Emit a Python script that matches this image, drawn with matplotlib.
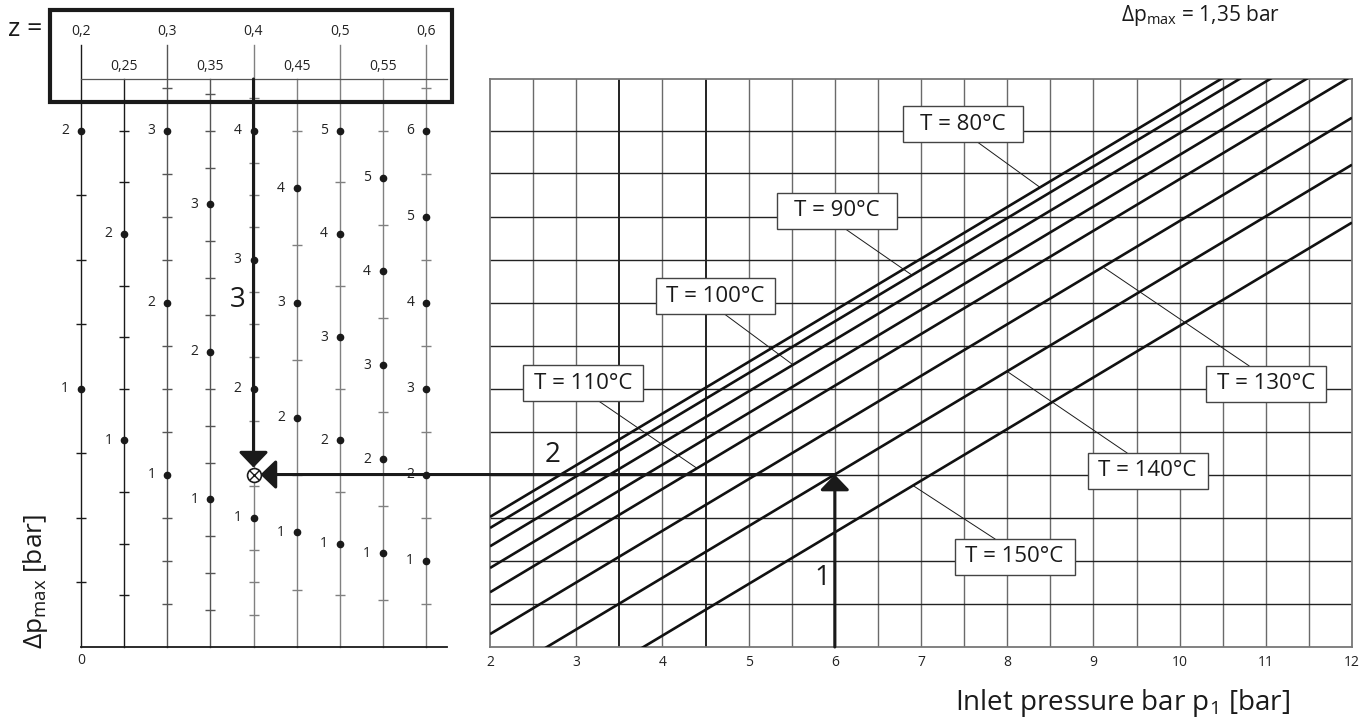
import matplotlib
matplotlib.use("Agg")
import matplotlib.pyplot as plt
from matplotlib.patches import Rectangle
import numpy as np

plt.rcParams['font.family'] = ['Open Sans', 'DejaVu Sans']
plt.rcParams['mathtext.fontset'] = 'custom'
plt.rcParams['mathtext.rm'] = 'Open Sans'

# left nomogram: pressure ratio z lines, dots = delta p_max in bar
z_values = [0.2, 0.25, 0.3, 0.35, 0.4, 0.45, 0.5, 0.55, 0.6]
z_labels = ["0,2", "0,25", "0,3", "0,35", "0,4", "0,45", "0,5", "0,55", "0,6"]
z_tick_step = [0.25, 0.25, 0.25, 0.25, 0.25, 0.5, 0.5, 0.5, 0.5]
dot_limit = 10.0     # highest dot, in (p1 - ps) units
tick_limit = 10.9

# right chart: inlet pressure vs (p1 - ps) for each temperature line
p1_ticks = [2, 3, 4, 5, 6, 7, 8, 9, 10, 11, 12]
line_offsets = [-0.52, -0.305, 0.05, 0.47, 0.94, 1.75, 2.66, 3.78]
h_grid = [0.83, 1.67, 2.5, 3.33, 4.17, 5.0, 5.83, 6.67, 7.5, 8.33, 9.17, 10.0]

t_labels = ["T = 80°C", "T = 90°C", "T = 100°C", "T = 110°C",
            "T = 130°C", "T = 140°C", "T = 150°C"]
t_box_p1 = [7.487, 6.026, 4.616, 3.079, 11.008, 9.628, 8.085]
t_box_y = [10.12, 8.45, 6.79, 5.107, 5.097, 3.41, 1.744]
t_lead_start = [7.661, 6.118, 4.726, 3.265, 10.805, 9.390, 7.858]
t_lead_side = [-1, -1, -1, -1, 1, 1, 1]
t_lead_line = [0, 1, 2, 4, 5, 6, 7]
t_lead_end = [8.381, 6.896, 5.515, 4.401, 9.111, 7.998, 6.907]

# worked example
p1_work = 6.0
z_work = 0.4
work_line = 6
y_work = p1_work - line_offsets[work_line]

W, H = 1372, 720
fig = plt.figure(figsize=(13.72, 7.2), dpi=100)


def add_px_axes(x0, x1, y0, y1):
    return fig.add_axes([x0 / W, 1 - y1 / H, (x1 - x0) / W, (y1 - y0) / H])


ax_l = add_px_axes(81, 426, 79, 647)
ax_l.set_xlim(0.2, 0.6)
ax_l.set_ylim(0, 11)
ax_l.axis('off')

ax_r = add_px_axes(490, 1352, 79, 647)
ax_r.set_xlim(2, 12)
ax_r.set_ylim(0, 11)
ax_r.set_facecolor('none')

small = 10
ink = '#1a1a1a'

# ---- left part
for i, (z, lab, step) in enumerate(zip(z_values, z_labels, z_tick_step)):
    main = i % 2 == 0
    top = 11.66 if main else 11.0
    col = ink if i < 2 else ('#555555' if i < 4 else '#808080')
    ax_l.plot([z, z], [0, top], color=col, lw=1.0, clip_on=False, zorder=2)
    ax_l.text(z, 11.92 if main else 11.24, lab, ha='center', va='center',
              fontsize=small, color='#222222')

    vals = np.arange(step, tick_limit * z + 1e-9, step)
    ticks = [v / z for v in vals if abs(v - round(v)) > 1e-6]
    dots = [v for v in vals if abs(v - round(v)) < 1e-6 and v / z <= dot_limit + 1e-6]
    ax_l.plot([z] * len(ticks), ticks, '_', ms=6.5, mew=1.0, color=col,
              clip_on=False, zorder=2)
    ax_l.plot([z] * len(dots), [v / z for v in dots], 'o', ms=4.5,
              color=ink, zorder=4, clip_on=False)
    for v in dots:
        ax_l.annotate(f"{int(round(v))}", (z, v / z), xytext=(-8.5, 0),
                      textcoords='offset points', ha='right', va='center',
                      fontsize=small, color='#222222')

ax_l.plot([0.2, 0.6243], [0, 0], color=ink, lw=1.3, clip_on=False)
ax_l.plot([0.2, 0.6243], [11, 11], color='#555555', lw=0.9, clip_on=False)
ax_l.add_patch(Rectangle((0.164, 10.56), 0.466, 1.78, fill=False, lw=3,
                         ec=ink, clip_on=False, zorder=6))
ax_l.text(0.135, 11.96, "z =", ha='center', va='center', fontsize=19, color=ink)
ax_l.text(0.2, -0.27, "0", ha='center', va='center', fontsize=small, color='#222222')
ax_l.text(0.1478, 1.26, r"Δp$_{\mathrm{max}}$ [bar]", rotation=90, ha='center',
          va='center', fontsize=19, color=ink)
ax_l.text(0.382, 6.72, "3", ha='center', va='center', fontsize=20, color=ink)

# arrow 3 down the z line
ax_l.annotate('', xy=(z_work, y_work), xytext=(z_work, 11.0),
              arrowprops=dict(arrowstyle='-|>,head_length=0.94,head_width=0.9',
                              mutation_scale=10, lw=2.2, color=ink,
                              shrinkA=0, shrinkB=5, clip_on=False),
              annotation_clip=False)
ax_l.plot(z_work, y_work, 'o', ms=10, mfc='white', mec=ink, mew=1.2, zorder=7,
          clip_on=False)
ax_l.plot(z_work, y_work, 'x', ms=6.5, mec=ink, mew=1.0, zorder=8, clip_on=False)

# ---- right part
for x in np.arange(2.5, 12, 0.5):
    bold = x in (3.5, 4.5)
    ax_r.axvline(x, color='#111111' if bold else '#6a6a6a',
                 lw=1.3 if bold else 1.0, zorder=1)
for y in h_grid:
    ax_r.axhline(y, color='#222222', lw=1.0, zorder=1)
for s in ax_r.spines.values():
    s.set_color('#777777')
    s.set_linewidth(1.3)

p1 = np.array([2.0, 12.0])
for c in line_offsets:
    ax_r.plot(p1, p1 - c, color='#111111', lw=1.9, zorder=3, solid_capstyle='butt')

ax_r.set_xticks(p1_ticks)
ax_r.set_xticklabels([str(t) for t in p1_ticks])
ax_r.tick_params(axis='x', length=0, pad=6, labelsize=small, colors='#222222')
ax_r.set_yticks([])

bw, bh = 1.392, 0.698
for lab, bx, by, ls, side, li, le in zip(t_labels, t_box_p1, t_box_y, t_lead_start,
                                         t_lead_side, t_lead_line, t_lead_end):
    ax_r.add_patch(Rectangle((bx - bw / 2, by - bh / 2), bw, bh, fc='white',
                             ec='#444444', lw=1.0, zorder=5, clip_on=False))
    ax_r.text(bx, by, lab, ha='center', va='center', fontsize=16, color=ink,
              zorder=6)
    ax_r.plot([ls, le], [by + side * bh / 2, le - line_offsets[li]],
              color=ink, lw=0.7, zorder=4)

# arrow 1 up from p1, arrow 2 across to the z line
ax_r.annotate('', xy=(p1_work, y_work), xytext=(p1_work, 0),
              arrowprops=dict(arrowstyle='-|>,head_length=0.94,head_width=0.9',
                              mutation_scale=10, lw=2.2, color=ink,
                              shrinkA=0, shrinkB=0), zorder=7)
ax_r.annotate('', xy=(z_work, y_work), xycoords=ax_l.transData,
              xytext=(p1_work, y_work), textcoords='data',
              arrowprops=dict(arrowstyle='-|>,head_length=0.94,head_width=0.9',
                              mutation_scale=10, lw=2.2, color=ink,
                              shrinkA=0, shrinkB=5, clip_on=False),
              annotation_clip=False, zorder=7)
ax_r.text(5.851, 1.337, "1", ha='center', va='center', fontsize=20, color=ink, zorder=8)
ax_r.text(2.731, 3.72, "2", ha='center', va='center', fontsize=20, color=ink, zorder=8)

ax_r.text(10.248, 12.23, r"Δp$_{\mathrm{max}}$ = 1,35 bar", ha='center', va='center',
          fontsize=15, color=ink)
ax_r.text(9.332, -1.085, r"Inlet pressure bar p$_{\mathrm{1}}$ [bar]", ha='center',
          va='center', fontsize=20, color=ink)

fig.savefig("out.png", dpi=100)
